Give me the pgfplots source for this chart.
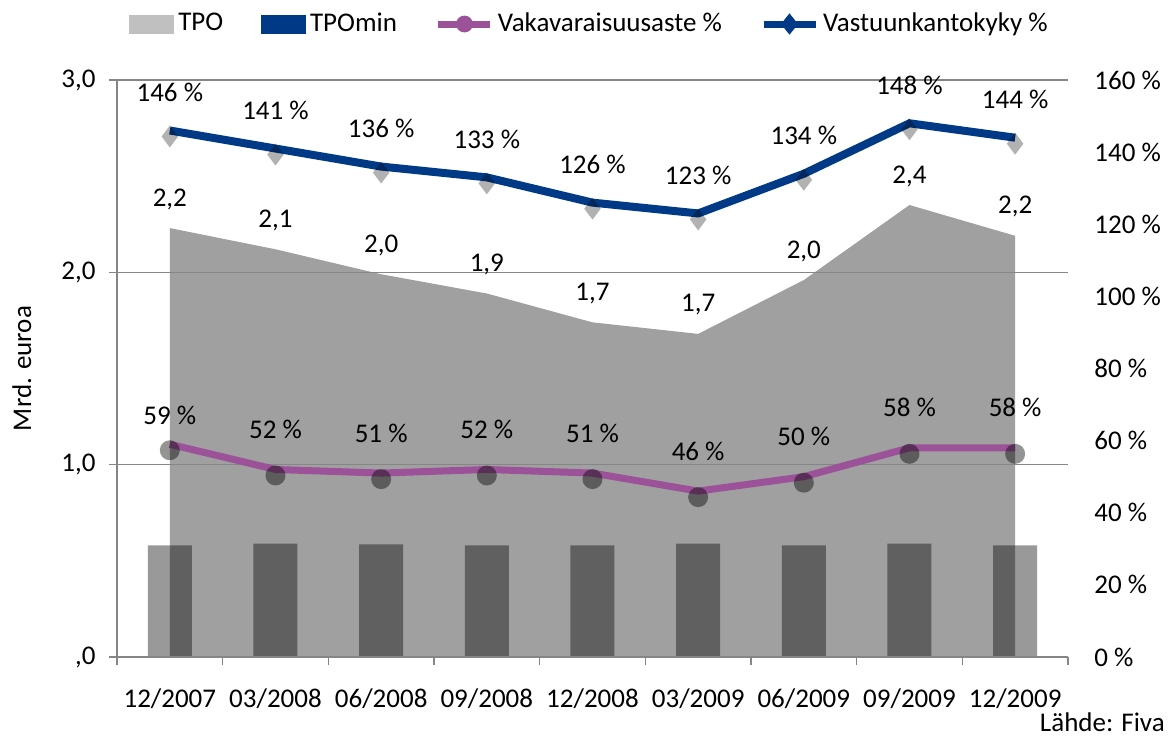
\documentclass[border=0pt]{standalone}
\usepackage{fontspec}
\setmainfont{Carlito}
\usepackage{pgfplots}
\pgfplotsset{compat=1.18}
\definecolor{areagray}{RGB}{160,160,160}
\definecolor{leggray}{RGB}{192,192,192}
\definecolor{vblue}{RGB}{0,58,135}
\definecolor{vpurple}{RGB}{155,82,152}
\definecolor{gridgray}{RGB}{134,134,134}
\begin{document}
\fontsize{13.5}{16}\selectfont
\begin{tikzpicture}
\path[use as bounding box] (-58.5pt,-39.5pt) rectangle (525.5pt,328.5pt);
\begin{axis}[
  scale only axis, width=475.5pt, height=288.5pt,
  at={(0,0)}, anchor=south west,
  xmin=-0.5, xmax=8.5, ymin=0, ymax=3,
  axis x line*=bottom, axis y line*=left,
  axis line style={draw=gridgray, line width=0.8pt, -},
  xtick={-0.5,0.5,...,8.5},
  x tick label as interval,
  xticklabels={12/2007,03/2008,06/2008,09/2008,12/2008,03/2009,06/2009,09/2009,12/2009,{}},
  ytick={0,1,2,3},
  yticklabels={{,0},{1,0},{2,0},{3,0}},
  tick align=outside, major tick length=4pt,
  tick style={draw=gridgray, line width=0.8pt},
  ymajorgrids, grid style={draw=gridgray, line width=0.8pt},
  axis on top,
  xticklabel style={yshift=-7pt},
  yticklabel style={xshift=-2pt},
  ylabel={Mrd. euroa},
  ylabel style={at={(axis description cs:-0.1,0.5)}, anchor=center},
  clip=false,
]
\addplot[fill=areagray, draw=none, nodes near coords, point meta=explicit symbolic,
  every node near coord/.append style={anchor=center, yshift=14.5pt, text=black}]
  coordinates {(0,2.23) [2,2] (1,2.12) [2,1] (2,1.99) [2,0] (3,1.89) [1,9] (4,1.74) [1,7]
               (5,1.68) [1,7] (6,1.96) [2,0] (7,2.35) [2,4] (8,2.19) [2,2]} \closedcycle;
\addplot[ybar, bar width=22pt, fill=black, fill opacity=0.4, draw=none]
  coordinates {(0,0.58) (1,0.59) (2,0.585) (3,0.58) (4,0.58) (5,0.59) (6,0.58) (7,0.59) (8,0.58)};
\node[anchor=east, inner sep=1pt] at (rel axis cs:1.1043,-0.1127) {Lähde: Fiva};
\end{axis}
\begin{axis}[
  scale only axis, width=475.5pt, height=288.5pt,
  at={(0,0)}, anchor=south west,
  xmin=-0.5, xmax=8.5, ymin=0, ymax=160,
  hide x axis, axis y line*=right, axis line style={draw=none},
  ytick={0,20,...,160},
  yticklabels={0 \%,20 \%,40 \%,60 \%,80 \%,100 \%,120 \%,140 \%,160 \%},
  ytick style={draw=none}, major tick length=0pt,
  yticklabel style={anchor=west, xshift=8.5pt},
  clip=false,
  legend style={at={(0.498,1.097)}, anchor=center, draw=none, fill=none,
    legend columns=4, /tikz/every even column/.append style={column sep=17pt},
    legend cell align=left},
]
\addlegendimage{legend image code/.code={\fill[leggray] (0pt,-4.5pt) rectangle (22pt,4.5pt);}}
\addlegendentry{TPO}
\addlegendimage{legend image code/.code={\fill[vblue] (0pt,-4.5pt) rectangle (22pt,4.5pt);}}
\addlegendentry{TPOmin}
\addlegendimage{legend image code/.code={\draw[vpurple, line width=3.5pt] (0pt,0pt) -- (26pt,0pt); \fill[vpurple] (13pt,0pt) circle (4pt);}}
\addlegendentry{Vakavaraisuusaste \%}
\addlegendimage{legend image code/.code={\draw[vblue, line width=3.5pt] (0pt,0pt) -- (26pt,0pt); \fill[vblue] (13pt,5pt) -- (17pt,0pt) -- (13pt,-5pt) -- (9pt,0pt) -- cycle;}}
\addlegendentry{Vastuunkantokyky \%}
% marker shadows
\addplot[only marks, mark=diamond*, mark size=5.5pt, forget plot,
  mark options={fill=black, draw opacity=0, fill opacity=0.3, yshift=-3pt}]
  coordinates {(0,146) (1,141) (2,136) (3,133) (4,126) (5,123) (6,134) (7,148) (8,144)};
\addplot[only marks, mark=*, mark size=5pt, forget plot,
  mark options={fill=black, draw opacity=0, fill opacity=0.42, yshift=-3pt}]
  coordinates {(0,59) (1,52) (2,51) (3,52) (4,51) (5,46) (6,50) (7,58) (8,58)};
\addplot[vblue, line width=4pt, forget plot, nodes near coords, point meta=explicit symbolic,
  every node near coord/.append style={anchor=center, yshift=19pt, text=black, line width=0.4pt}]
  coordinates {(0,146) [146 \%] (1,141) [141 \%] (2,136) [136 \%] (3,133) [133 \%] (4,126) [126 \%]
               (5,123) [123 \%] (6,134) [134 \%] (7,148) [148 \%] (8,144) [144 \%]};
\addplot[vpurple, line width=3.5pt, forget plot, nodes near coords, point meta=explicit symbolic,
  every node near coord/.append style={anchor=center, yshift=20pt, text=black, line width=0.4pt},
  coordinate style/.condition={x<0.5}{yshift=-5.5pt}]
  coordinates {(0,59) [59 \%] (1,52) [52 \%] (2,51) [51 \%] (3,52) [52 \%] (4,51) [51 \%]
               (5,46) [46 \%] (6,50) [50 \%] (7,58) [58 \%] (8,58) [58 \%]};
\end{axis}
\end{tikzpicture}
\end{document}
